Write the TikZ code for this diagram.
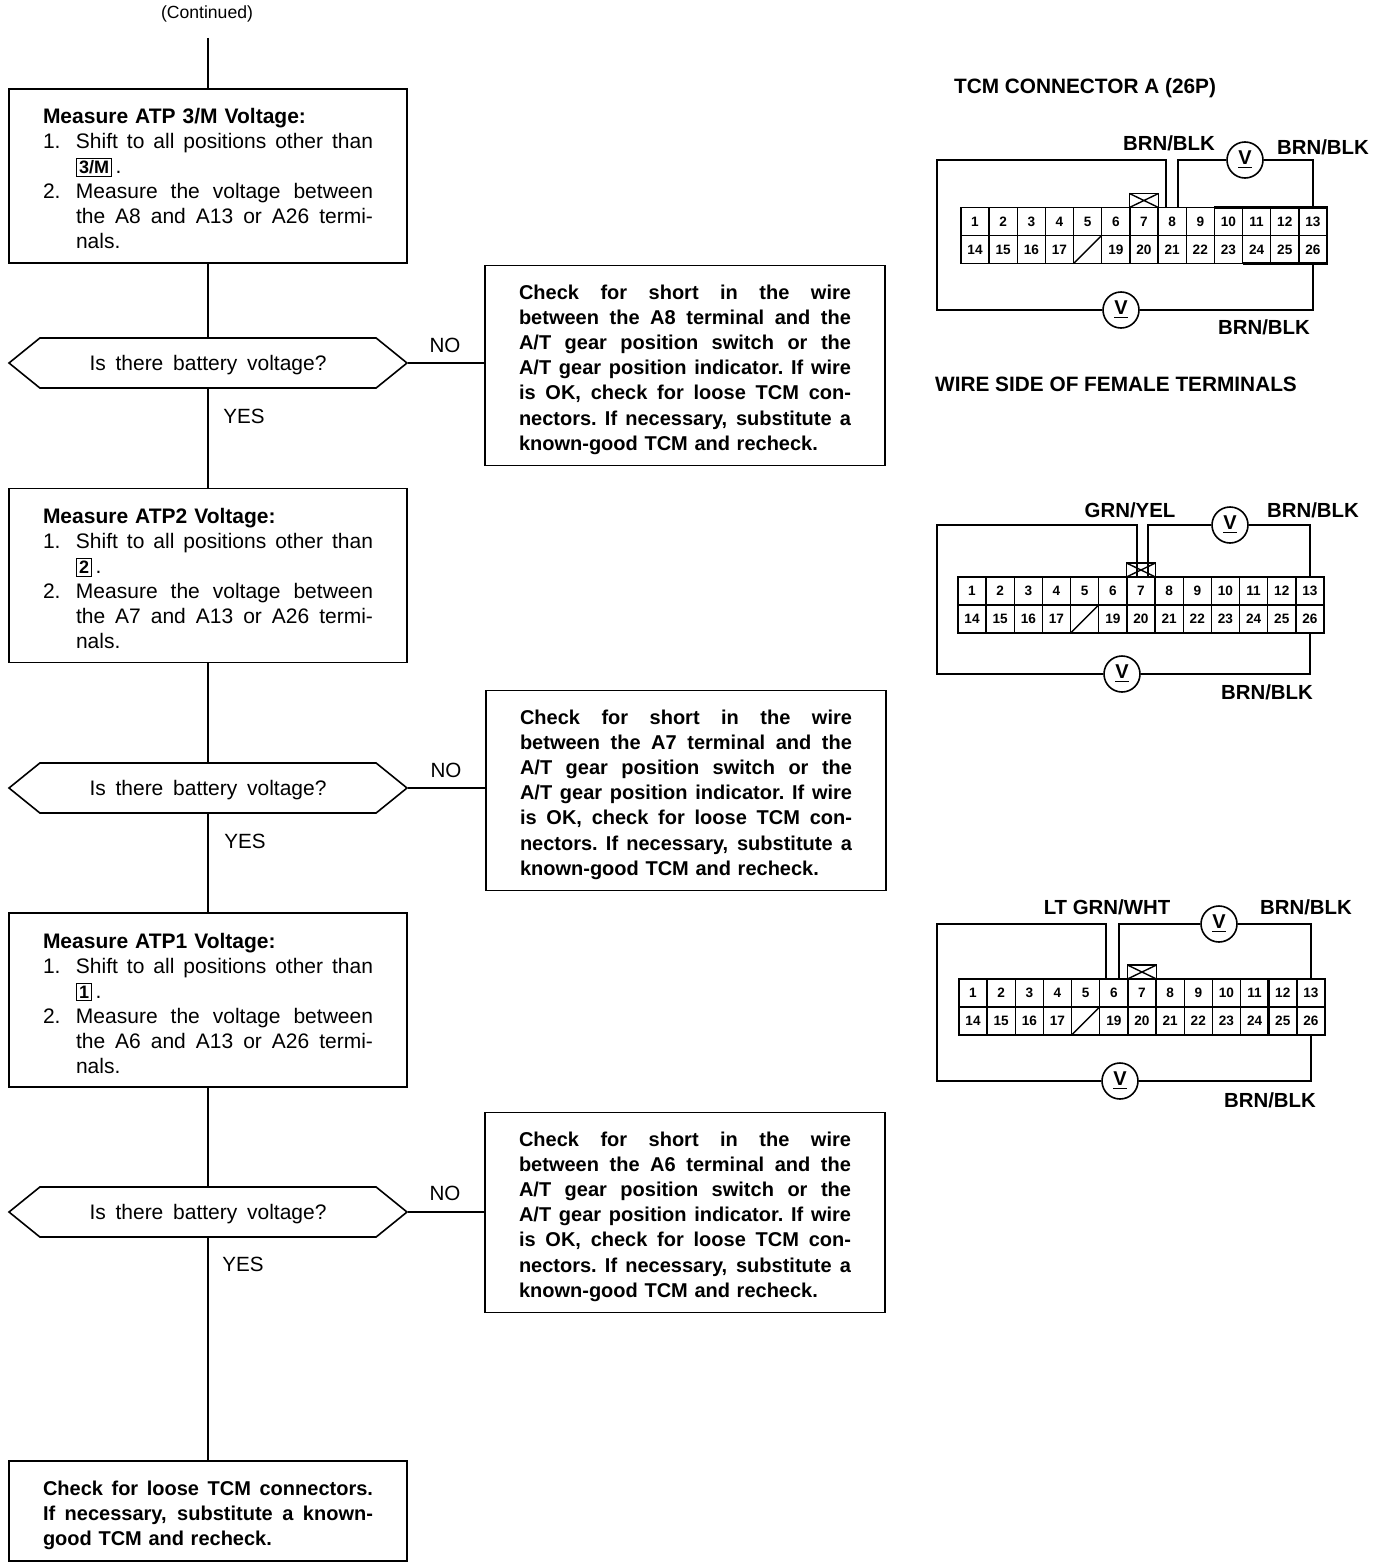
\documentclass[tikz,border=0pt]{standalone}
\usepackage{fontspec}
\setmainfont{Liberation Sans}
\usetikzlibrary{shapes.symbols,positioning}
\tikzset
{
    stepbox/.style  = {rectangle, draw=black, line width=0.8pt, minimum width=199pt, text width=165pt, align=left, inner sep=0pt, font=\fontsize{10.5}{12.5}\selectfont},
    checkbox/.style = {rectangle, draw=black, line width=0.8pt, minimum width=200pt, minimum height=100pt, text width=166pt, align=left, inner sep=0pt, font=\fontsize{10}{12.58}\selectfont\bfseries},
    decision/.style = {signal, signal to=west and east, signal pointer angle=78, draw=black, line width=0.8pt, minimum width=199pt, minimum height=25pt, inner sep=0pt, font=\fontsize{10.5}{12.5}\selectfont},
    answer/.style   = {font=\fontsize{10.3}{12}\selectfont, inner sep=0pt},
    title/.style    = {font=\fontsize{10.4}{12}\selectfont\bfseries, inner sep=0pt},
    wirelabel/.style = {font=\fontsize{10.2}{12}\selectfont\bfseries, inner sep=0pt},
    cell/.style     = {rectangle, draw=black, line width=0.7pt, minimum width=14.08pt, minimum height=14pt, inner sep=0pt, outer sep=0pt, font=\fontsize{6.8}{8}\selectfont\bfseries},
    bump/.style     = {rectangle, draw=black, line width=0.8pt, minimum width=14.5pt, minimum height=7pt, inner sep=0pt, outer sep=0pt, anchor=south},
    meter/.style    = {circle, draw=black, line width=0.8pt, minimum size=18pt, inner sep=0pt, font=\fontsize{10}{12}\selectfont\bfseries},
    wire/.style     = {line width=0.8pt},
    heavy/.style    = {line width=1.2pt},
    flow/.style     = {line width=0.8pt}
}
\newcommand\FITLINE[2]{\makebox[#1][s]{\spaceskip=0.27em plus 1fil\xspaceskip=\spaceskip\relax #2}}
\newcommand\JLINE[1]{\FITLINE{166pt}{#1}}
\newcommand\TOPLINE[1]{\rule{0pt}{#1}}
\newcommand\ITEMLINE[2]{\makebox[16.5pt][l]{#1}\FITLINE{148.5pt}{#2}}
\newcommand\CONTLINE[1]{\hspace*{16.5pt}#1}
\newcommand\GEARBOX[1]{\fboxsep=1pt\fboxrule=0.5pt\fbox{\fontsize{9}{9}\selectfont\bfseries #1}}
\newcommand\ASKTEXT{\raisebox{-3.7pt}[0pt][0pt]{\FITLINE{118.5pt}{Is there battery voltage?}}}
\newcommand\CELLDX{28.16}
\newcommand\TCMCONN[3]{%
	 \foreach \n in {1,...,13}
	    \node (#1\n) [cell] at ({#2+(\n-1)*\CELLDX}, {#3}) {\n};
	 \foreach \n in {14,...,26}
	    \node (#1\n) [cell] at ({#2+(\n-14)*\CELLDX}, {#3+28}) {\ifnum\n=18 \else\n\fi};
	 \draw[line width=0.7pt] (#118.south west) -- (#118.north east);
	 \node (#1x) [bump] at (#17.north) {};
	 \draw[line width=0.7pt] (#1x.south west) -- (#1x.north east) (#1x.north west) -- (#1x.south east);
}

\begin{document}
\begin{tikzpicture}[x=0.5pt, y=-0.5pt]
   \useasboundingbox (0, 0) rectangle (1376, 1568);

   % flow chart
   \node (cont) [answer, font=\fontsize{8.8}{10}\selectfont] at (207, 14) {(Continued)};
   \coordinate (start) at (208, 38);

   \node (ba) [stepbox, minimum height=87pt] at (208, 176) {%
      \TOPLINE{10.6pt}\textbf{Measure ATP 3/M Voltage:}\\
      \ITEMLINE{1.}{Shift to all positions other than}\\
      \CONTLINE{\GEARBOX{3/M}\,.}\\
      \ITEMLINE{2.}{Measure the voltage between}\\
      \CONTLINE{\FITLINE{148.5pt}{the A8 and A13 or A26 termi-}}\\
      \CONTLINE{nals.}};
   \node (da) [decision] at (208, 363) {\ASKTEXT};
   \node (na) [checkbox] at (685, 365.5) {%
      \TOPLINE{11.3pt}\JLINE{Check for short in the wire}\\
      \JLINE{between the A8 terminal and the}\\
      \JLINE{A/T gear position switch or the}\\
      \JLINE{A/T gear position indicator. If wire}\\
      \JLINE{is OK, check for loose TCM con-}\\
      \JLINE{nectors. If necessary, substitute a}\\
      known-good TCM and recheck.};
   \node (noa) [answer] at (445, 345) {NO};
   \node (yesa) [answer] at (244, 416) {YES};

   \node (bb) [stepbox, minimum height=87pt] at (208, 575.5) {%
      \TOPLINE{10.6pt}\textbf{Measure ATP2 Voltage:}\\
      \ITEMLINE{1.}{Shift to all positions other than}\\
      \CONTLINE{\GEARBOX{2}\,.}\\
      \ITEMLINE{2.}{Measure the voltage between}\\
      \CONTLINE{\FITLINE{148.5pt}{the A7 and A13 or A26 termi-}}\\
      \CONTLINE{nals.}};
   \node (db) [decision] at (208, 788) {\ASKTEXT};
   \node (nb) [checkbox] at (686, 790.5) {%
      \TOPLINE{11.3pt}\JLINE{Check for short in the wire}\\
      \JLINE{between the A7 terminal and the}\\
      \JLINE{A/T gear position switch or the}\\
      \JLINE{A/T gear position indicator. If wire}\\
      \JLINE{is OK, check for loose TCM con-}\\
      \JLINE{nectors. If necessary, substitute a}\\
      known-good TCM and recheck.};
   \node (nob) [answer] at (446, 770) {NO};
   \node (yesb) [answer] at (245, 841) {YES};

   \node (bc) [stepbox, minimum height=87pt] at (208, 1000) {%
      \TOPLINE{10.6pt}\textbf{Measure ATP1 Voltage:}\\
      \ITEMLINE{1.}{Shift to all positions other than}\\
      \CONTLINE{\GEARBOX{1}\,.}\\
      \ITEMLINE{2.}{Measure the voltage between}\\
      \CONTLINE{\FITLINE{148.5pt}{the A6 and A13 or A26 termi-}}\\
      \CONTLINE{nals.}};
   \node (dc) [decision] at (208, 1212) {\ASKTEXT};
   \node (nc) [checkbox] at (685, 1212.5) {%
      \TOPLINE{11.3pt}\JLINE{Check for short in the wire}\\
      \JLINE{between the A6 terminal and the}\\
      \JLINE{A/T gear position switch or the}\\
      \JLINE{A/T gear position indicator. If wire}\\
      \JLINE{is OK, check for loose TCM con-}\\
      \JLINE{nectors. If necessary, substitute a}\\
      known-good TCM and recheck.};
   \node (noc) [answer] at (445, 1193) {NO};
   \node (yesc) [answer] at (243, 1264) {YES};

   \node (fin) [stepbox, minimum height=50pt, font=\fontsize{10}{12.5}\selectfont\bfseries] at (208, 1511) {%
      \TOPLINE{11.3pt}\FITLINE{165pt}{Check for loose TCM connectors.}\\
      \FITLINE{165pt}{If necessary, substitute a known-}\\
      good TCM and recheck.};

   \path[flow]
      (start)    edge (ba.north)
      (ba.south) edge (da.north)
      (da.south) edge (bb.north)
      (bb.south) edge (db.north)
      (db.south) edge (bc.north)
      (bc.south) edge (dc.north)
      (dc.south) edge (fin.north);
   \draw[flow] (da.east) -- (da.east -| na.west);
   \draw[flow] (db.east) -- (db.east -| nb.west);
   \draw[flow] (dc.east) -- (dc.east -| nc.west);

   % first connector
   \node (ttl) [title] at (1085, 88) {TCM CONNECTOR A (26P)};
   \node (sid) [title] at (1116, 384) {WIRE SIDE OF FEMALE TERMINALS};
   \TCMCONN{a}{975}{221.5}
   \node (ama) [meter] at (1245, 160) {\underline{V}};
   \node (amb) [meter] at (1121, 310) {\underline{V}};
   \coordinate (acr) at (937, 160);
   \draw[wire] ([xshift=-3pt]a8.north) |- (acr) |- (amb.west);
   \draw[wire] (amb.east) -| (a26.south);
   \draw[wire] ([xshift=3pt]a8.north) |- (ama.west);
   \draw[wire] (ama.east) -| (a13.north);
   \draw[heavy] (a10.north west) -- (a13.north east) -- (a26.south east) -- (a24.south west);
   \node (ala) [wirelabel] at (1169, 143) {BRN/BLK};
   \node (alb) [wirelabel] at (1323, 147) {BRN/BLK};
   \node (alc) [wirelabel] at (1264, 327) {BRN/BLK};

   % second connector
   \TCMCONN{b}{972}{591}
   \node (bma) [meter] at (1230, 525) {\underline{V}};
   \node (bmb) [meter] at (1122, 674) {\underline{V}};
   \coordinate (bcr) at (937, 525);
   \draw[wire] ([xshift=-2pt]b7.north) |- (bcr) |- (bmb.west);
   \draw[wire] (bmb.east) -| (b26.south);
   \draw[wire] ([xshift=3.5pt]b7.north) |- (bma.west);
   \draw[wire] (bma.east) -| (b13.north);
   \draw[heavy] (b1.north west) -- (b13.north east);
   \node (bla) [wirelabel] at (1130, 510) {GRN/YEL};
   \node (blb) [wirelabel] at (1313, 510) {BRN/BLK};
   \node (blc) [wirelabel] at (1267, 692) {BRN/BLK};

   % third connector
   \TCMCONN{c}{973}{993}
   \node (cma) [meter] at (1219, 924) {\underline{V}};
   \node (cmb) [meter] at (1120, 1081) {\underline{V}};
   \coordinate (ccr) at (937, 924);
   \draw[wire] ([xshift=-4pt]c6.north) |- (ccr) |- (cmb.west);
   \draw[wire] (cmb.east) -| (c26.south);
   \draw[wire] ([xshift=2.5pt]c6.north) |- (cma.west);
   \draw[wire] (cma.east) -| (c13.north);
   \draw[heavy] (c1.north west) rectangle (c26.south east);
   \draw[heavy] (c12.north west) -- (c25.south west);
   \draw[heavy] (c12.south west) -- (c13.south east);
   \node (cla) [wirelabel] at (1107, 907) {LT GRN/WHT};
   \node (clb) [wirelabel] at (1306, 907) {BRN/BLK};
   \node (clc) [wirelabel] at (1270, 1100) {BRN/BLK};
\end{tikzpicture}
\end{document}
